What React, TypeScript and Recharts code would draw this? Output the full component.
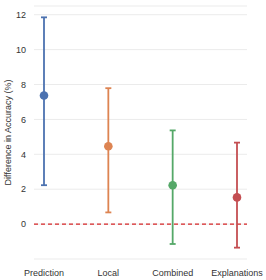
import { ScatterChart, Scatter, XAxis, YAxis, CartesianGrid, ReferenceLine, ErrorBar, Label } from 'recharts';

const CATEGORIES = ['Prediction', 'Local', 'Combined', 'Explanations'];
const MEANS = [7.37, 4.46, 2.23, 1.53];
const LOWER = [2.23, 0.67, -1.14, -1.35];
const UPPER = [11.85, 7.79, 5.37, 4.67];
const COLORS = ['#4C72B0', '#DD8452', '#55A868', '#C44E52'];
const Y_TICKS = [0, 2, 4, 6, 8, 10, 12];

const FONT = '"Liberation Sans", Arial, sans-serif';

const series = CATEGORIES.map((name, i) => ({
    name,
    color: COLORS[i],
    data: [{ x: i, y: MEANS[i], err: [MEANS[i] - LOWER[i], UPPER[i] - MEANS[i]] }],
}));

export default function App() {
    return (
        <div style={{ position: 'fixed', top: 0, left: 0, background: '#fff', fontFamily: FONT }}>
            <ScatterChart width={266} height={280} margin={{ top: 6, right: 19, bottom: 0, left: 0 }}>
                <CartesianGrid horizontal vertical={false} stroke="#ebebeb" strokeWidth={1} />
                <XAxis
                    type="number"
                    dataKey="x"
                    domain={[0, 3]}
                    ticks={[0, 1, 2, 3]}
                    tickFormatter={(i: number) => CATEGORIES[i] ?? ''}
                    padding={{ left: 10, right: 10 }}
                    axisLine={false}
                    tickLine={false}
                    tickSize={0}
                    tickMargin={11}
                    height={21}
                    interval={0}
                    tick={{ fontSize: 9, fill: '#333', fontFamily: FONT }}
                />
                <YAxis
                    type="number"
                    dataKey="y"
                    domain={[-2, 12.5]}
                    ticks={Y_TICKS}
                    axisLine={false}
                    tickLine={false}
                    tickSize={0}
                    tickMargin={8}
                    width={34}
                    tick={{ fontSize: 9, fill: '#333', fontFamily: FONT }}
                >
                    <Label
                        value="Difference in Accuracy (%)"
                        angle={-90}
                        position="insideLeft"
                        offset={8}
                        style={{ textAnchor: 'middle', fontSize: 9, fill: '#333', fontFamily: FONT }}
                    />
                </YAxis>
                <ReferenceLine y={0} stroke="#D62728" strokeDasharray="4 3" strokeWidth={1.2} />
                {series.map(s => (
                    <Scatter
                        key={s.name}
                        data={s.data}
                        fill={s.color}
                        isAnimationActive={false}
                        shape={(props: any) => <circle cx={props.cx} cy={props.cy} r={4.3} fill={s.color} />}
                    >
                        <ErrorBar dataKey="err" direction="y" width={3} stroke={s.color} strokeWidth={1.8} />
                    </Scatter>
                ))}
            </ScatterChart>
        </div>
    );
}
